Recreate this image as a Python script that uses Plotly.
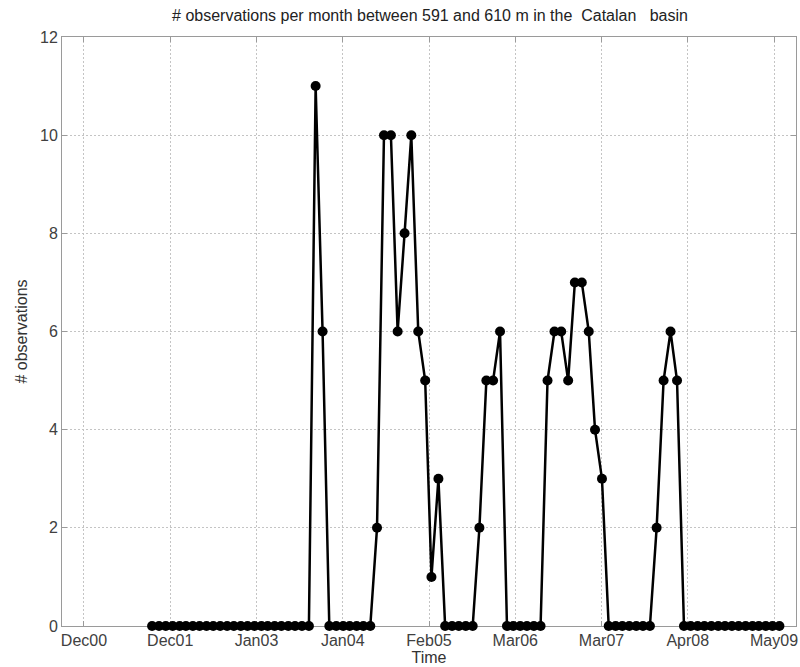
import plotly.graph_objects as go
import pandas as pd

# Monthly observation counts, Oct 2001 .. Jun 2009
counts = [0, 0, 0, 0, 0, 0, 0, 0, 0, 0, 0, 0, 0, 0, 0, 0, 0, 0, 0, 0, 0, 0, 0, 0,
          11, 6,
          0, 0, 0, 0, 0, 0, 0,
          2, 10, 10, 6, 8, 10, 6, 5, 1, 3,
          0, 0, 0, 0, 0,
          2, 5, 5, 6,
          0, 0, 0, 0, 0, 0,
          5, 6, 6, 5, 7, 7, 6, 4, 3,
          0, 0, 0, 0, 0, 0, 0,
          2, 5, 6, 5,
          0, 0, 0, 0, 0, 0, 0, 0, 0, 0, 0, 0, 0, 0, 0]
start_month = "2001-10-01"
months = pd.date_range(start_month, periods=len(counts), freq="MS")

tick_dates = ["2000-12-01", "2001-12-21", "2003-01-10", "2004-01-30", "2005-02-18",
              "2006-03-10", "2007-03-30", "2008-04-18", "2009-05-08"]
tick_labels = ["Dec00", "Dec01", "Jan03", "Jan04", "Feb05", "Mar06", "Mar07", "Apr08", "May09"]
y_ticks = [0, 2, 4, 6, 8, 10, 12]

title_text = ("# observations per month between 591 and 610 m in the\u00a0\u00a0Catalan"
              "\u00a0\u00a0\u00a0basin")

fig = go.Figure()
fig.add_trace(go.Scatter(
    x=months, y=counts, mode="lines+markers",
    line=dict(color="black", width=2.5),
    marker=dict(color="black", size=10, symbol="circle"),
    cliponaxis=False, showlegend=False,
))

font_family = "Liberation Sans, Arial, Helvetica, sans-serif"
fig.update_layout(
    width=800, height=667,
    margin=dict(l=62, r=2, t=37, b=41),
    paper_bgcolor="white", plot_bgcolor="white",
    font=dict(family=font_family, size=16, color="#333333"),
    title=dict(text=title_text, x=0.5375, xanchor="center", y=1 - 15 / 667, yanchor="middle",
               font=dict(size=16, color="#222222")),
)
fig.update_xaxes(
    type="date", range=["2000-08-25", "2009-08-14"],
    tickmode="array", tickvals=tick_dates, ticktext=tick_labels,
    tickfont=dict(size=16, color="#404040"), ticklabeloverflow="allow",
    showgrid=True, gridcolor="#c4c4c4", griddash="2px,2px", gridwidth=1,
    showline=True, linecolor="#9a9a9a", linewidth=1, mirror="ticks",
    ticks="inside", ticklen=5, tickcolor="#9a9a9a",
    zeroline=False, layer="below traces",
    title=dict(text="Time", font=dict(size=16, color="#333333"), standoff=1),
)
fig.update_yaxes(
    range=[0, 12], tickmode="array", tickvals=y_ticks,
    tickfont=dict(size=16, color="#404040"),
    showgrid=True, gridcolor="#c4c4c4", griddash="2px,2px", gridwidth=1,
    showline=True, linecolor="#9a9a9a", linewidth=1, mirror="ticks",
    ticks="inside", ticklen=5, tickcolor="#9a9a9a",
    zeroline=False, layer="below traces",
    title=dict(text="# observations", font=dict(size=16, color="#333333"), standoff=8),
)

fig.write_html("out.html")
